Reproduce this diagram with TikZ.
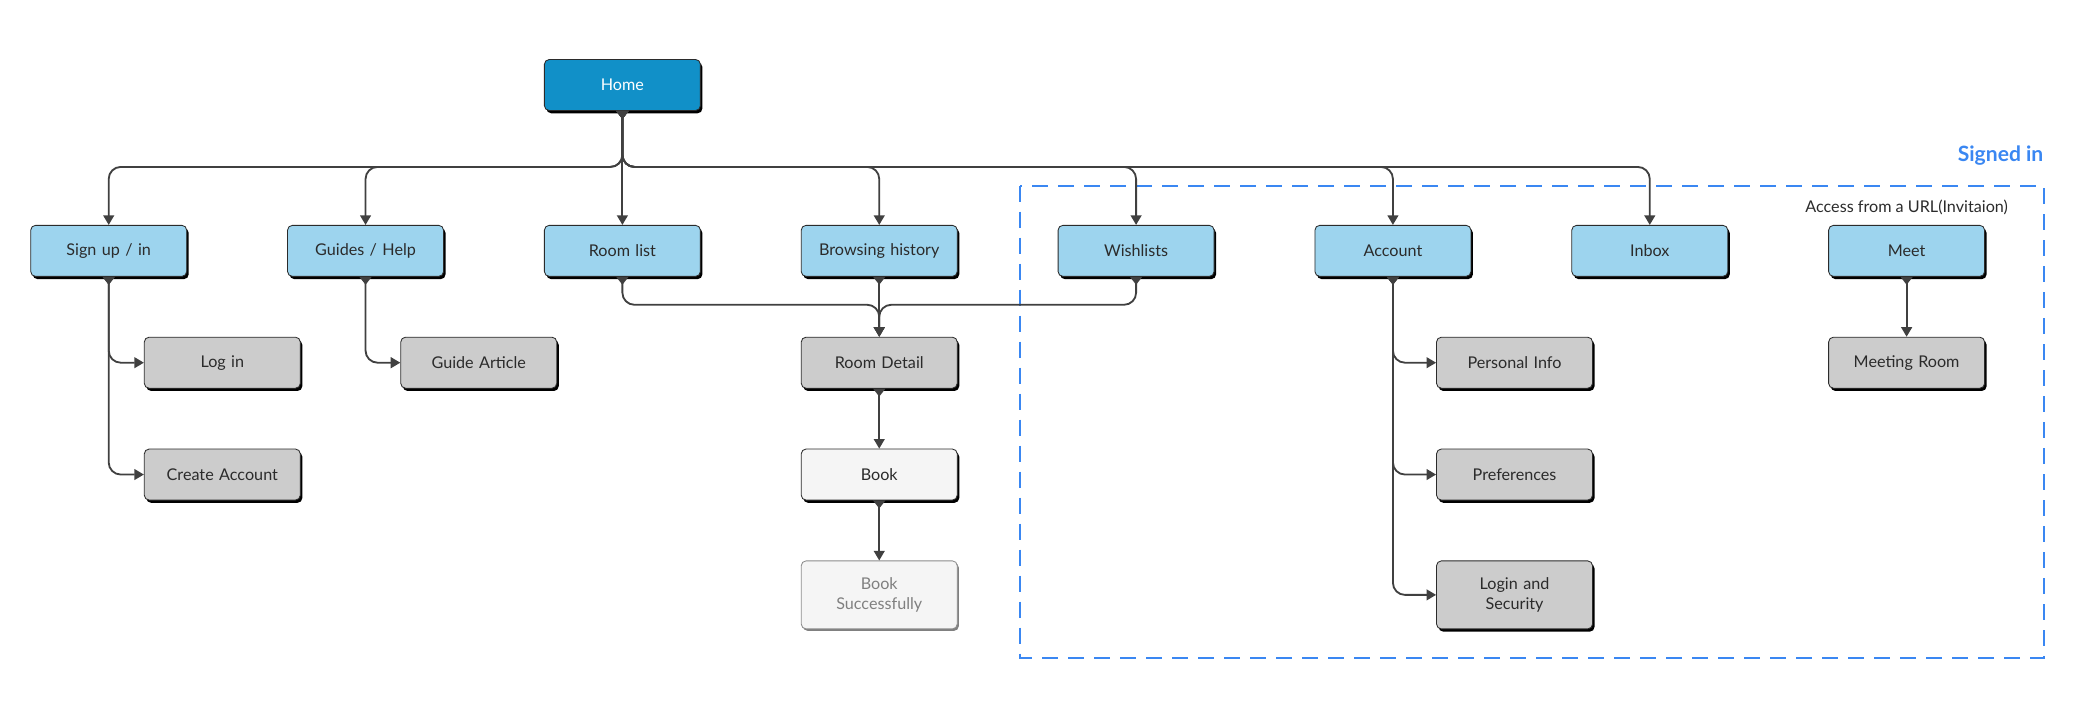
\documentclass[tikz,border=0pt]{standalone}
\usepackage{fontspec}
\setmainfont{Lato}
\usepackage{xcolor}
\usetikzlibrary{arrows.meta, positioning, shadows}

\definecolor{homeblue}{HTML}{1190C8}
\definecolor{pageblue}{HTML}{9DD4EE}
\definecolor{pagegray}{HTML}{CCCCCC}
\definecolor{linegray}{HTML}{404040}
\definecolor{textgray}{HTML}{2B2B2B}
\definecolor{signblue}{HTML}{3A87F2}

\begin{document}
\begin{tikzpicture}
      \tikzset{
        base/.style={rectangle, rounded corners=0.12cm, draw=textgray, line width=0.6pt,
                     minimum width=3.9cm, minimum height=1.275cm, text width=3.5cm, align=center,
                     text=textgray, font=\fontsize{11.5}{14}\selectfont},
        box/.style={base, drop shadow={shadow xshift=0.05cm, shadow yshift=-0.07cm, fill=black, opacity=1}},
        homebox/.style={box, fill=homeblue, text=white},
        topbox/.style={box, fill=pageblue},
        subbox/.style={box, fill=pagegray},
        lightbox/.style={box, fill=black!4},
        donebox/.style={base, fill=black!4, draw=black!45, text=black!50, minimum height=1.7cm,
                        drop shadow={shadow xshift=0.04cm, shadow yshift=-0.05cm, fill=black!50, opacity=1}},
        tall/.style={minimum height=1.7cm},
        link/.style={{Triangle[reversed, length=0.2cm, width=0.3cm]}-{Triangle[length=0.24cm, width=0.27cm]},
                     line width=1.3pt, draw=linegray, rounded corners=0.3cm},
        signed/.style={draw=signblue, line width=1.3pt, dash pattern=on 0.4cm off 0.25cm}
      }

      \useasboundingbox (0,0) rectangle (52,-18);

      \draw[signed] (25.51,-4.64) rectangle (51.09,-16.45);
      \node[anchor=east, inner sep=0, text=signblue, font=\bfseries\fontsize{15}{17}\selectfont] (signedin) at (51.09,-3.9) {Signed in};

      \node[homebox] (home) at (15.56,-2.125) {Home};

      \node[topbox, below=2.85cm of home] (roomlist) {Room list};
      \node[topbox, left=2.5cm of roomlist] (guides) {Guides / Help};
      \node[topbox, left=2.5cm of guides] (signup) {Sign up / in};
      \node[topbox, right=2.5cm of roomlist] (browsing) {Browsing history};
      \node[topbox, right=2.5cm of browsing] (wishlists) {Wishlists};
      \node[topbox, right=2.5cm of wishlists] (account) {Account};
      \node[topbox, right=2.5cm of account] (inbox) {Inbox};
      \node[topbox, right=2.5cm of inbox] (meet) {Meet};

      \node[above=0.24cm of meet, inner sep=0, text=textgray, font=\fontsize{11.5}{13}\selectfont] (invite) {Access from a URL(Invitaion)};

      \node[subbox, below=1.5cm of signup, xshift=2.84cm] (login) {Log in};
      \node[subbox, below=1.5cm of login] (createacc) {Create Account};
      \node[subbox, below=1.5cm of guides, xshift=2.83cm] (article) {Guide Article};
      \node[subbox, below=1.5cm of browsing] (roomdetail) {Room Detail};
      \node[lightbox, below=1.5cm of roomdetail] (book) {Book};
      \node[donebox, below=1.5cm of book] (booked) {Book\\Successfully};
      \node[subbox, below=1.5cm of account, xshift=3.04cm] (personal) {Personal Info};
      \node[subbox, below=1.5cm of personal] (prefs) {Preferences};
      \node[subbox, tall, below=1.5cm of prefs] (security) {Login and\\Security};
      \node[subbox, below=1.5cm of meet] (meetroom) {Meeting Room};

      \coordinate[below=1.4cm of home] (hbus);
      \coordinate[above=0.8cm of roomdetail] (dbus);

      \draw[link] (home.south) -- (hbus) -| (signup.north);
      \draw[link] (home.south) -- (hbus) -| (guides.north);
      \draw[link] (home.south) -- (roomlist.north);
      \draw[link] (home.south) -- (hbus) -| (browsing.north);
      \draw[link] (home.south) -- (hbus) -| (wishlists.north);
      \draw[link] (home.south) -- (hbus) -| (account.north);
      \draw[link] (home.south) -- (hbus) -| (inbox.north);

      \draw[link] (signup.south) |- (login.west);
      \draw[link] (signup.south) |- (createacc.west);
      \draw[link] (guides.south) |- (article.west);

      \draw[link] (roomlist.south) |- (dbus) -- (roomdetail.north);
      \draw[link] (browsing.south) -- (roomdetail.north);
      \draw[link] (wishlists.south) |- (dbus) -- (roomdetail.north);
      \draw[link] (roomdetail.south) -- (book.north);
      \draw[link] (book.south) -- (booked.north);

      \draw[link] (account.south) |- (personal.west);
      \draw[link] (account.south) |- (prefs.west);
      \draw[link] (account.south) |- (security.west);

      \draw[link] (meet.south) -- (meetroom.north);

    \end{tikzpicture}
\end{document}
